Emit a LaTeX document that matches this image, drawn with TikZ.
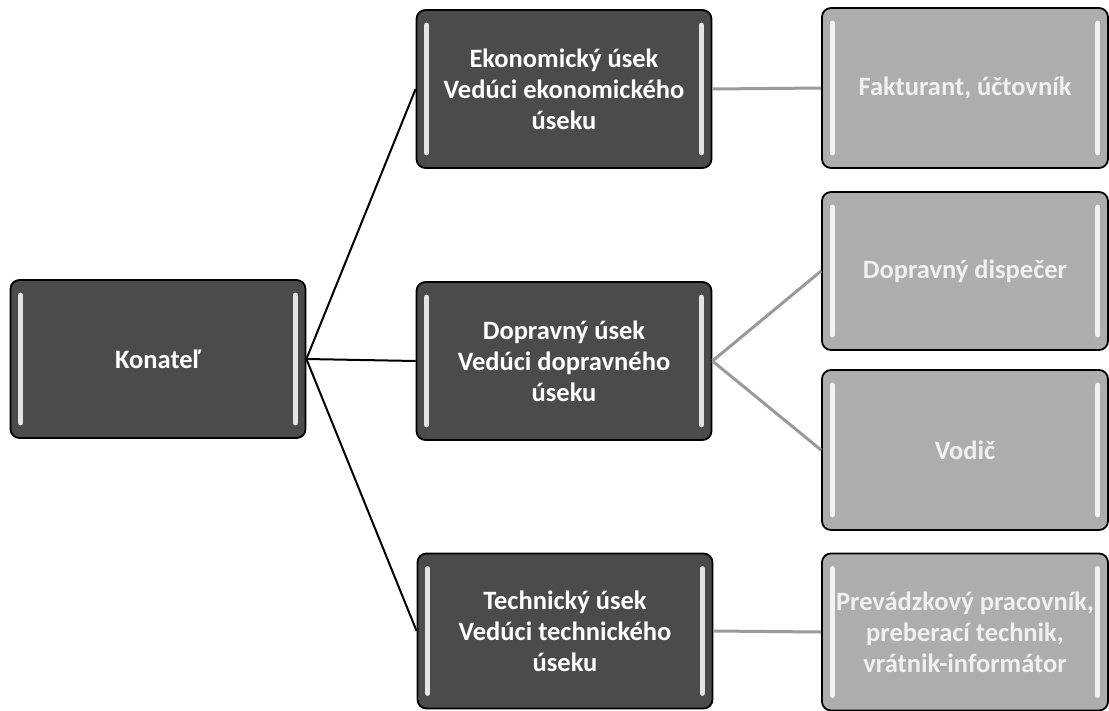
\documentclass[tikz,border=0pt]{standalone}
\usepackage{fontspec}
\setmainfont{Carlito}
\definecolor{darkfill}{HTML}{4B4B4B}
\definecolor{lightfill}{HTML}{ADADAD}
\definecolor{lighttext}{HTML}{F0F0F0}
\definecolor{linkgray}{HTML}{9A9A9A}
\tikzset{
  boxbase/.style={draw=black, line width=1.8pt, rounded corners=9pt, align=center, inner sep=0pt,
    font=\bfseries\fontsize{26.5}{31}\selectfont},
  darkbox/.style={boxbase, fill=darkfill, text=white, minimum width=295pt, minimum height=158pt},
  lightbox/.style={boxbase, fill=lightfill, text=lighttext, minimum width=286pt, minimum height=158pt},
  hibar/.style={draw=white, opacity=0.85, line width=5pt, line cap=round},
  mainlink/.style={draw=black, line width=2pt},
  sublink/.style={draw=linkgray, line width=3pt},
}
\begin{document}
\begin{tikzpicture}[x=1pt,y=-1pt]
\useasboundingbox (0,0) rectangle (1109,710);
\node[darkbox] (kon) at (158,359) {Konateľ};
\node[darkbox] (eko) at (564,89) {Ekonomický úsek\\Vedúci ekonomického\\úseku};
\node[darkbox] (dop) at (564,361) {Dopravný úsek\\Vedúci dopravného\\úseku};
\node[darkbox, minimum height=155pt] (tec) at (565,631) {Technický úsek\\Vedúci technického\\úseku};
\node[lightbox, minimum height=160pt] (fak) at (965,88) {Fakturant, účtovník};
\node[lightbox] (dis) at (965,271) {Dopravný dispečer};
\node[lightbox, minimum height=160pt] (vod) at (965,450) {Vodič};
\node[lightbox, minimum height=157pt] (pre) at (965,632) {Prevádzkový pracovník,\\preberací technik,\\vrátnik-informátor};
\foreach \n in {kon,eko,dop,tec,fak,dis,vod,pre}{
  \draw[hibar] ([xshift=11pt,yshift=-16pt]\n.north west) -- ([xshift=11pt,yshift=16pt]\n.south west);
  \draw[hibar] ([xshift=-11pt,yshift=-16pt]\n.north east) -- ([xshift=-11pt,yshift=16pt]\n.south east);
}
\draw[mainlink] (kon.east) -- (eko.west);
\draw[mainlink] (kon.east) -- (dop.west);
\draw[mainlink] (kon.east) -- (tec.west);
\draw[sublink] (eko.east) -- (fak.west);
\draw[sublink] (dop.east) -- (dis.west);
\draw[sublink] (dop.east) -- (vod.west);
\draw[sublink] (tec.east) -- (pre.west);
\end{tikzpicture}
\end{document}
